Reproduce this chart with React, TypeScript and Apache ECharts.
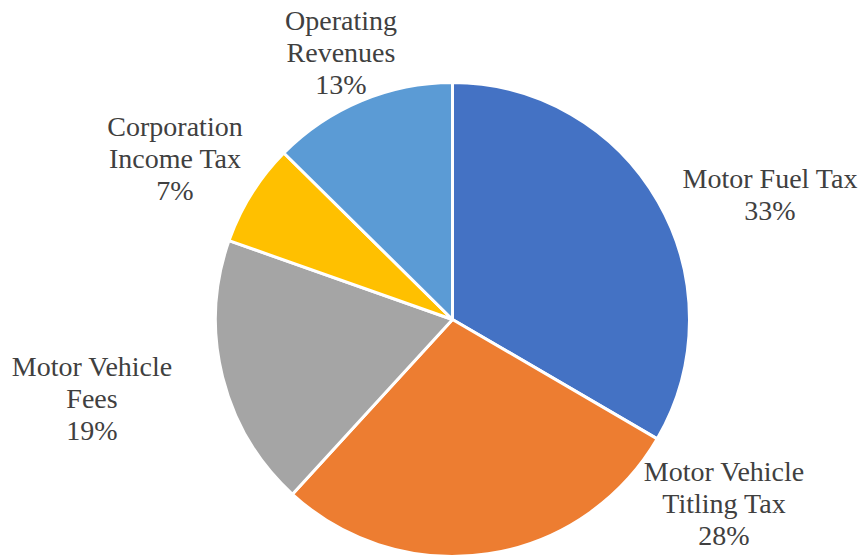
import React, { useEffect, useRef } from "react";
import * as echarts from "echarts";

const categories = [
  "Motor Fuel Tax",
  "Motor Vehicle\nTitling Tax",
  "Motor Vehicle\nFees",
  "Corporation\nIncome Tax",
  "Operating\nRevenues",
];
const values = [33.4, 28.4, 18.6, 7.0, 12.6];
const colors = ["#4472C4", "#ED7D31", "#A5A5A5", "#FFC000", "#5B9BD5"];

// label anchor centers (layout only)
const labelAnchors: [number, number][] = [
  [770, 194],
  [724, 503],
  [92, 398],
  [175, 158],
  [341, 52],
];

export default function App() {
  const ref = useRef<HTMLDivElement>(null);
  useEffect(() => {
    if (!ref.current) return;
    const chart = echarts.init(ref.current, undefined, { renderer: "svg" });
    chart.setOption({
      animation: false,
      backgroundColor: "#ffffff",
      series: [
        {
          type: "pie",
          center: [452.5, 319.5],
          radius: 237,
          startAngle: 90,
          clockwise: true,
          avoidLabelOverlap: false,
          itemStyle: { borderColor: "#ffffff", borderWidth: 3 },
          label: {
            show: true,
            position: "outside",
            fontFamily: "Liberation Serif",
            fontSize: 28,
            lineHeight: 32,
            color: "#404040",
            align: "center",
            formatter: (p: any) => `${p.name}\n${Math.round(p.percent)}%`,
          },
          labelLine: { show: false },
          labelLayout: (params: any) => {
            const a = labelAnchors[params.dataIndex];
            return { x: a[0], y: a[1], align: "center", verticalAlign: "middle" };
          },
          data: categories.map((name, i) => ({
            name,
            value: values[i],
            itemStyle: { color: colors[i] },
          })),
        },
      ],
    });
    return () => chart.dispose();
  }, []);
  return (
    <div
      ref={ref}
      style={{ position: "fixed", left: 0, top: 0, width: 860, height: 557 }}
    />
  );
}
